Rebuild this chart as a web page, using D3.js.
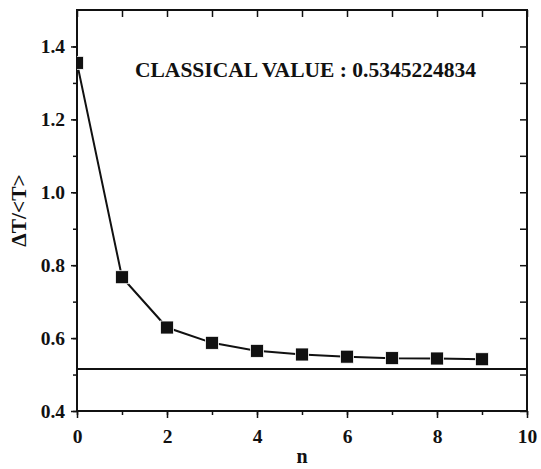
<!DOCTYPE html>
<html>
<head>
<meta charset="utf-8">
<script src="https://cdn.jsdelivr.net/npm/d3@7"></script>
<style>
  body { margin: 0; background: #fff; }
  text { font-family: "Liberation Serif", "Times New Roman", serif; font-weight: bold; fill: #111; }
</style>
</head>
<body>
<svg width="541" height="469"></svg>
<script>
// Data
var nValues = [0, 1, 2, 3, 4, 5, 6, 7, 8, 9];
var ratioValues = [1.355, 0.767, 0.629, 0.587, 0.565, 0.555, 0.549, 0.545, 0.544, 0.542];
var classicalLevel = 0.515;
var xTicks = [0, 2, 4, 6, 8, 10];
var yTicks = [0.4, 0.6, 0.8, 1.0, 1.2, 1.4];
var annotation = "CLASSICAL VALUE : 0.5345224834";

var svg = d3.select("svg"),
    margin = {top: 10, right: 14, bottom: 58, left: 77},
    width = +svg.attr("width") - margin.left - margin.right,
    height = +svg.attr("height") - margin.top - margin.bottom,
    g = svg.append("g").attr("transform", "translate(" + margin.left + "," + margin.top + ")");

var x = d3.scaleLinear().domain([0, 10]).range([0, width]),
    y = d3.scaleLinear().domain([0.4, 1.5]).range([height, 0]);

var data = nValues.map(function(n, i) { return {n: n, v: ratioValues[i]}; });

// clip for the markers (first one is cut by the left axis)
svg.append("defs").append("clipPath").attr("id", "plotclip")
  .append("rect").attr("width", width).attr("height", height);

// minor + major ticks
function styleAxis(sel) {
  sel.select(".domain").remove();
  sel.selectAll("line").attr("stroke", "#111").attr("stroke-width", 1.5);
  sel.selectAll("text").style("font-size", "19.5px");
}

var xMinor = d3.range(0, 11, 1), yMinor = d3.range(4, 15, 1).map(function(d) { return d / 10; });

// bottom: minor outward short, major outward longer
g.append("g").attr("transform", "translate(0," + height + ")")
  .call(d3.axisBottom(x).tickValues(xMinor).tickSize(4).tickFormat(""))
  .call(styleAxis);
g.append("g").attr("transform", "translate(0," + height + ")")
  .call(d3.axisBottom(x).tickValues(xTicks).tickSize(7).tickPadding(11).tickFormat(d3.format("d")))
  .call(styleAxis);

// left
g.append("g")
  .call(d3.axisLeft(y).tickValues(yMinor).tickSize(4).tickFormat(""))
  .call(styleAxis);
g.append("g")
  .call(d3.axisLeft(y).tickValues(yTicks).tickSize(6).tickPadding(6).tickFormat(d3.format(".1f")))
  .call(styleAxis);

// top and right: inward ticks
g.append("g")
  .call(d3.axisBottom(x).tickValues(xMinor).tickSize(7).tickFormat(""))
  .call(styleAxis);
g.append("g").attr("transform", "translate(" + width + ",0)")
  .call(d3.axisLeft(y).tickValues(yMinor).tickSize(7).tickFormat(""))
  .call(styleAxis);

// frame
g.append("rect")
  .attr("width", width).attr("height", height)
  .attr("fill", "none").attr("stroke", "#111").attr("stroke-width", 2);

// classical value line
g.append("line")
  .attr("x1", x(0)).attr("x2", x(10))
  .attr("y1", y(classicalLevel)).attr("y2", y(classicalLevel))
  .attr("stroke", "#111").attr("stroke-width", 2);

// data line and squares
var line = d3.line().x(function(d) { return x(d.n); }).y(function(d) { return y(d.v); });
var plot = g.append("g").attr("clip-path", "url(#plotclip)");
plot.append("path").datum(data)
  .attr("d", line).attr("fill", "none").attr("stroke", "#111").attr("stroke-width", 2);
plot.selectAll(".pt").data(data).enter().append("rect")
  .attr("class", "pt")
  .attr("x", function(d) { return x(d.n) - 6.5; })
  .attr("y", function(d) { return y(d.v) - 6.5; })
  .attr("width", 13).attr("height", 13)
  .attr("fill", "#111").attr("stroke", "#fff").attr("stroke-width", 0.8);

// annotation
g.append("text")
  .attr("x", 58).attr("y", 67)
  .style("font-size", "21.5px")
  .text(annotation);

// axis titles
svg.append("text")
  .attr("x", margin.left + width / 2).attr("y", 463)
  .attr("text-anchor", "middle")
  .style("font-size", "20px")
  .text("n");
svg.append("text")
  .attr("transform", "translate(26," + (margin.top + y(0.95)) + ") rotate(-90)")
  .attr("text-anchor", "middle")
  .style("font-size", "21.5px")
  .text("\u0394T/<T>");
</script>
</body>
</html>
